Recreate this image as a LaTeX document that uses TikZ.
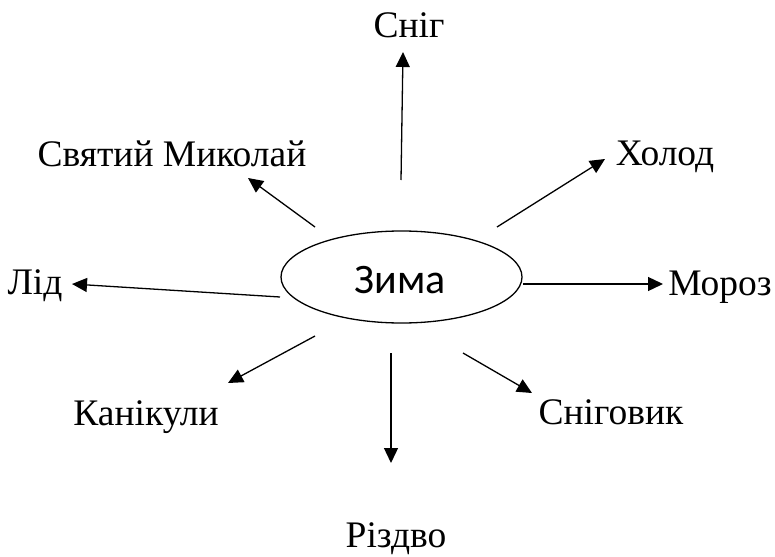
\documentclass[tikz,border=0pt]{standalone}
\usepackage{fontspec}
\setmainfont{Liberation Serif}
\newfontfamily\zimafont{Carlito}
\usetikzlibrary{arrows.meta,shapes.geometric}
\tikzset{
  word/.style={anchor=base,inner sep=0pt,font=\fontsize{37.5}{40}\selectfont},
  ray/.style={line width=1.3pt,-{Triangle[length=15pt,width=14pt]}}
}
\begin{document}
\begin{tikzpicture}[x=1pt,y=-1pt]
		\useasboundingbox (0,0) rectangle (775,556);
		\node[draw,ellipse,line width=1.3pt,minimum width=241pt,minimum height=92pt,inner sep=0pt] (zima) at (401.5,277) {};
		\node[anchor=base,inner sep=0pt,font=\zimafont\fontsize{42}{44}\selectfont] (zimatext) at (400,293) {Зима};
		% words round the ellipse
		\node[word] (snih) at (409,38) {Сніг};
		\node[word] (mykolai) at (172,167) {Святий Миколай};
		\node[word] (lid) at (35,294) {Лід};
		\node[word] (kholod) at (665,165) {Холод};
		\node[word] (moroz) at (720,295) {Мороз};
		\node[word] (kanikuly) at (146,425) {Канікули};
		\node[word] (rizdvo) at (396,547) {Різдво};
		\node[word] (snihovyk) at (611,424) {Сніговик};
		% arrows
		\coordinate (s1) at (401,180); \coordinate (t1) at (403,52);
		\coordinate (s2) at (315,227); \coordinate (t2) at (248,178);
		\coordinate (s3) at (280,297); \coordinate (t3) at (72,284);
		\coordinate (s4) at (497,227); \coordinate (t4) at (605,159);
		\coordinate (s5) at (523,284); \coordinate (t5) at (663,284);
		\coordinate (s6) at (315,336); \coordinate (t6) at (228,383);
		\coordinate (s7) at (391,353); \coordinate (t7) at (391,463);
		\coordinate (s8) at (463,353); \coordinate (t8) at (532,393);
		\foreach \i in {1,...,8}
			\draw[ray] (s\i) -- (t\i);
	\end{tikzpicture}
\end{document}
